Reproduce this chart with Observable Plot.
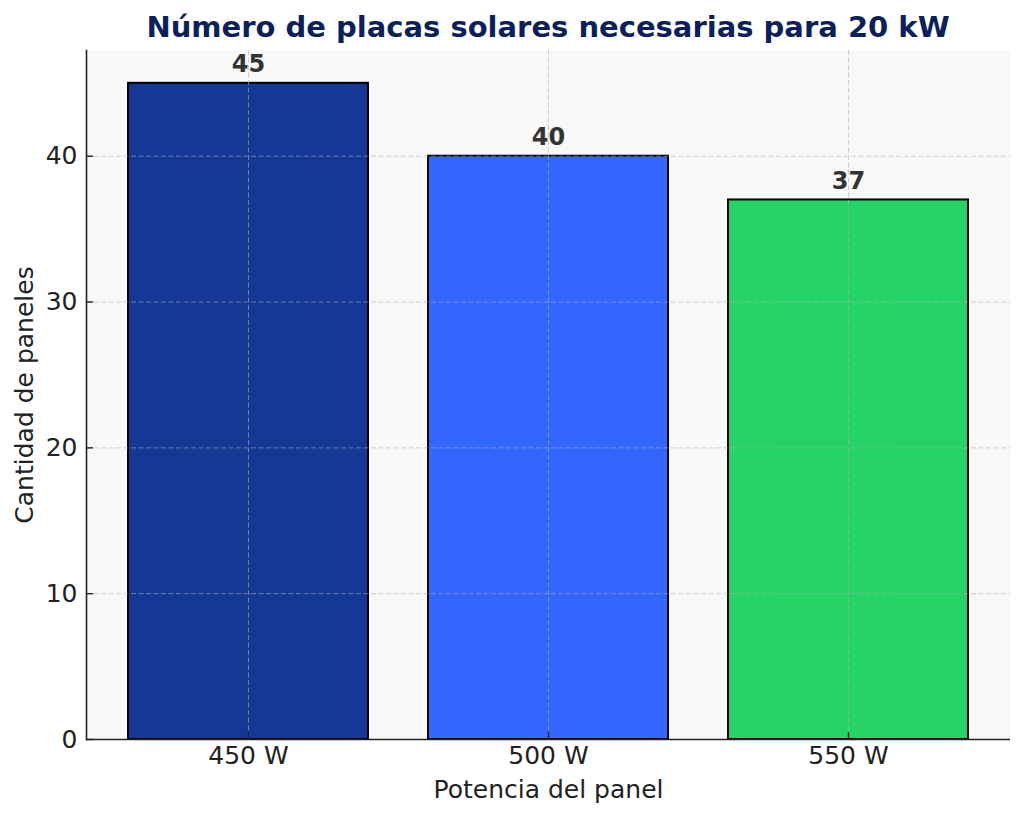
<!DOCTYPE html>
<html><head><meta charset="utf-8">
<script src="https://cdn.jsdelivr.net/npm/d3@7"></script>
<script src="https://cdn.jsdelivr.net/npm/@observablehq/plot@0.6"></script>
<style>
body{margin:0;background:#fff;font-family:"DejaVu Sans",sans-serif}
#wrap{position:relative;width:1024px;height:817px}
#title{position:absolute;left:86px;width:924px;top:13px;line-height:29px;text-align:center;font-size:29px;font-weight:bold;color:#0a1f5c;white-space:nowrap;z-index:2}
#chart{position:absolute;left:0;top:0}
</style></head><body>
<div id="wrap"><div id="title">Número de placas solares necesarias para 20 kW</div><div id="chart"></div></div>
<script>
const categories = ["450 W", "500 W", "550 W"];
const panelCounts = [45, 40, 37];
const barColors = ["#153894", "#3366ff", "#26d366"];
const yTicks = [0, 10, 20, 30, 40];
const xLabel = "Potencia del panel";
const yLabel = "Cantidad de paneles";

const data = categories.map((c, i) => ({potencia: c, paneles: panelCounts[i], color: barColors[i]}));

const chart = Plot.plot({
  width: 1024, height: 817,
  marginTop: 50, marginBottom: 78, marginLeft: 86, marginRight: 14,
  style: {fontFamily: "DejaVu Sans", fontSize: "25px", color: "#222", background: "transparent", overflow: "visible"},
  x: {type: "band", domain: categories, paddingInner: 0.2, paddingOuter: 0.14, align: 0.5},
  y: {domain: [0, 47.25]},
  marks: [
    Plot.frame({fill: "#f8f8f8", stroke: null}),
    Plot.barY(data, {x: "potencia", y: "paneles", fill: "color", stroke: "#000", strokeWidth: 2}),
    Plot.gridY(yTicks, {stroke: "#b0b0b0", strokeOpacity: 0.6, strokeDasharray: "5,2.5", strokeWidth: 1}),
    Plot.gridX(categories, {stroke: "#b0b0b0", strokeOpacity: 0.6, strokeDasharray: "5,2.5", strokeWidth: 1}),
    Plot.text(data, {x: "potencia", y: "paneles", text: d => String(d.paneles), dy: -19, fontWeight: "bold", fontSize: 24, fill: "#333"}),
    Plot.tickY(yTicks, {y: d => d, insetRight: 917, stroke: "#222", strokeWidth: 1.4}),
    Plot.tickX(categories, {x: d => d, insetTop: 682, stroke: "#222", strokeWidth: 1.4}),
    Plot.axisY(yTicks, {tickSize: 0, tickPadding: 9, fontSize: 25, fill: "#222", label: yLabel, labelAnchor: "center", labelOffset: 71, labelArrow: "none"}),
    Plot.axisX(categories, {tickSize: 0, tickPadding: 7, fontSize: 25, fill: "#222", label: xLabel, labelAnchor: "center", labelOffset: 58, labelArrow: "none"}),
    Plot.ruleY([0], {stroke: "#222", strokeWidth: 1.6}),
    Plot.frame({anchor: "left", stroke: "#222", strokeWidth: 1.6})
  ]
});
document.getElementById("chart").appendChild(chart);
</script>
</body></html>
